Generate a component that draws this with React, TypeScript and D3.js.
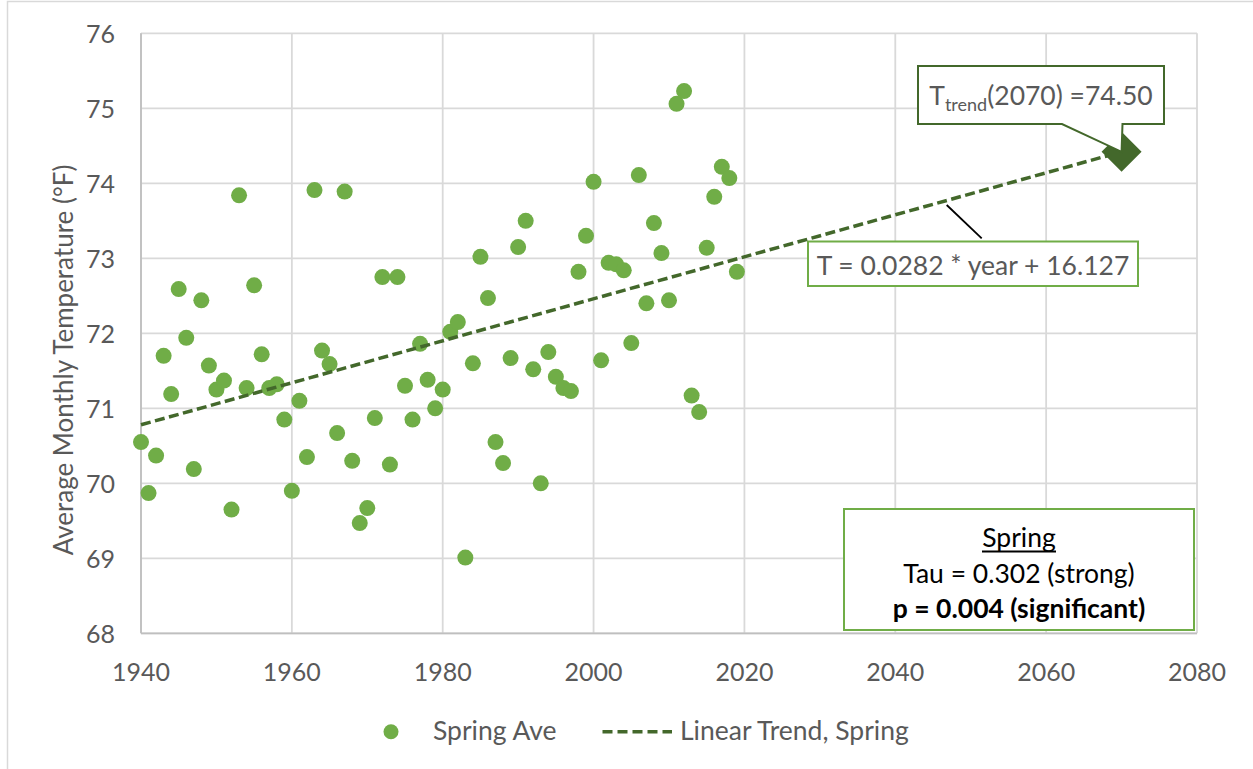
import React from "react";
import * as d3 from "d3";

const years = [
  1940, 1941, 1942, 1943, 1944, 1945, 1946, 1947, 1948, 1949,
  1950, 1951, 1952, 1953, 1954, 1955, 1956, 1957, 1958, 1959,
  1960, 1961, 1962, 1963, 1964, 1965, 1966, 1967, 1968, 1969,
  1970, 1971, 1972, 1973, 1974, 1975, 1976, 1977, 1978, 1979,
  1980, 1981, 1982, 1983, 1984, 1985, 1986, 1987, 1988, 1989,
  1990, 1991, 1992, 1993, 1994, 1995, 1996, 1997, 1998, 1999,
  2000, 2001, 2002, 2003, 2004, 2005, 2006, 2007, 2008, 2009,
  2010, 2011, 2012, 2013, 2014, 2015, 2016, 2017, 2018, 2019,
];

// spring average temperature (°F)
const springAve = [
  70.55, 69.87, 70.37, 71.7, 71.19, 72.59, 71.94, 70.19, 72.44, 71.57,
  71.25, 71.37, 69.65, 73.84, 71.27, 72.64, 71.72, 71.27, 71.32, 70.85,
  69.9, 71.1, 70.35, 73.91, 71.77, 71.59, 70.67, 73.89, 70.3, 69.47,
  69.67, 70.87, 72.75, 70.25, 72.75, 71.3, 70.85, 71.86, 71.38, 71.0,
  71.25, 72.02, 72.15, 69.01, 71.6, 73.02, 72.47, 70.55, 70.27, 71.67,
  73.15, 73.5, 71.52, 70.0, 71.75, 71.42, 71.27, 71.23, 72.82, 73.3,
  74.02, 71.64, 72.94, 72.92, 72.84, 71.87, 74.11, 72.4, 73.47, 73.07,
  72.44, 75.06, 75.23, 71.17, 70.95, 73.14, 73.82, 74.22, 74.07, 72.82,
];

// linear trend as drawn (start and forecast end)
const trendYears = [1940, 2070];
const trendValues = [70.78, 74.42];

const xTicks = [1940, 1960, 1980, 2000, 2020, 2040, 2060, 2080];
const yTicks = [68, 69, 70, 71, 72, 73, 74, 75, 76];

const seriesNames = ["Spring Ave", "Linear Trend, Spring"];
const trendLabel = "T = 0.0282 * year + 16.127";
const forecastLabel = ["T", "trend", "(2070) =74.50"];
const statsLines = ["Spring", "Tau = 0.302 (strong)", "p = 0.004 (significant)"];

const W = 1253;
const H = 769;
const FONT = "Lato, 'Open Sans', sans-serif";
const GRAY = "#595959";
const GREEN = "#70AD47";
const DARK = "#43682B";

export default function App() {
  const x = d3.scaleLinear().domain([1940, 2080]).range([141, 1197]);
  const y = d3.scaleLinear().domain([68, 76]).range([633.3, 33.3]);

  const trendPts = trendYears.map((yr, i) => [x(yr), y(trendValues[i])] as [number, number]);
  const line = d3.line();
  const [tipX, tipY] = trendPts[1];

  // callout for forecast value
  const cb = { x0: 918, y0: 66, x1: 1164, y1: 124 };
  const callout = [
    [cb.x0, cb.y0], [cb.x1, cb.y0], [cb.x1, cb.y1], [1122.5, cb.y1],
    [tipX, tipY], [1062, cb.y1], [cb.x0, cb.y1],
  ];

  const d = 20;
  const diamond = [
    [tipX, tipY - d], [tipX + d, tipY], [tipX, tipY + d], [tipX - d, tipY],
  ];

  return (
    <svg width={W} height={H} style={{ position: "absolute", left: 0, top: 0, display: "block" }}
      fontFamily={FONT}>
      <rect x={0} y={0} width={W} height={H} fill="#fff" />
      <rect x={7.5} y={1.5} width={W + 20} height={H + 20} fill="none" stroke="#d9d9d9" strokeWidth={1.5} />

      {/* grid */}
      {yTicks.map((t) => (
        <line key={"gy" + t} x1={x(1940)} x2={x(2080)} y1={y(t)} y2={y(t)} stroke="#d9d9d9" strokeWidth={1.8} />
      ))}
      {xTicks.map((t) => (
        <line key={"gx" + t} x1={x(t)} x2={x(t)} y1={y(68)} y2={y(76)} stroke="#d9d9d9" strokeWidth={1.8} />
      ))}
      <line x1={x(1940)} x2={x(1940)} y1={y(68)} y2={y(76)} stroke="#bfbfbf" strokeWidth={1.8} />
      <line x1={x(1940)} x2={x(2080)} y1={y(68)} y2={y(68)} stroke="#bfbfbf" strokeWidth={1.8} />

      {/* tick labels */}
      {yTicks.map((t) => (
        <text key={"ly" + t} x={115} y={y(t) + 10} textAnchor="end" fontSize={25} fill={GRAY}>{t}</text>
      ))}
      {xTicks.map((t) => (
        <text key={"lx" + t} x={x(t)} y={681} textAnchor="middle" fontSize={25} fill={GRAY}>{t}</text>
      ))}
      <text transform="translate(73,360) rotate(-90)" textAnchor="middle" fontSize={26} fill={GRAY}>
        Average Monthly Temperature (°F)
      </text>

      {/* points */}
      {years.map((yr, i) => (
        <circle key={yr} cx={x(yr)} cy={y(springAve[i])} r={8} fill={GREEN} />
      ))}

      {/* trend */}
      <path d={line(trendPts) || ""} fill="none" stroke={DARK} strokeWidth={3.5} strokeDasharray="10 4.5" />
      <polygon points={diamond.map((p) => p.join(",")).join(" ")} fill={DARK} />

      {/* forecast callout */}
      <polygon points={callout.map((p) => p.join(",")).join(" ")} fill="#fff" stroke={DARK} strokeWidth={2} />
      <text x={(cb.x0 + cb.x1) / 2} y={105} textAnchor="middle" fontSize={26.5} fill={GRAY}>
        {forecastLabel[0]}
        <tspan fontSize={18} dy={6}>{forecastLabel[1]}</tspan>
        <tspan dy={-6}>{forecastLabel[2]}</tspan>
      </text>

      {/* trend equation label */}
      <line x1={946.7} y1={205} x2={981.7} y2={238.3} stroke="#000" strokeWidth={1.8} />
      <rect x={808} y={241.5} width={330} height={44.5} fill="#fff" stroke={GREEN} strokeWidth={2} />
      <text x={973} y={275} textAnchor="middle" fontSize={26.5} fill={GRAY}>{trendLabel}</text>

      {/* stats box */}
      <rect x={844} y={509} width={350} height={121} fill="#fff" stroke={GREEN} strokeWidth={2} />
      <text x={1019} y={546.5} textAnchor="middle" fontSize={26.5} fill="#000">{statsLines[0]}</text>
      <line x1={982} x2={1056} y1={551.5} y2={551.5} stroke="#000" strokeWidth={1.8} />
      <text x={1019} y={582.5} textAnchor="middle" fontSize={26.5} fill="#000">{statsLines[1]}</text>
      <text x={1019} y={618} textAnchor="middle" fontSize={26.5} fontWeight="bold" fill="#000">{statsLines[2]}</text>

      {/* legend */}
      <circle cx={391} cy={731.7} r={7.5} fill={GREEN} />
      <text x={433} y={740} fontSize={26.5} fill={GRAY}>{seriesNames[0]}</text>
      <line x1={602.5} x2={672} y1={731.7} y2={731.7} stroke={DARK} strokeWidth={3.5} strokeDasharray="10 5" />
      <text x={680} y={740} fontSize={26.5} fill={GRAY}>{seriesNames[1]}</text>
    </svg>
  );
}
